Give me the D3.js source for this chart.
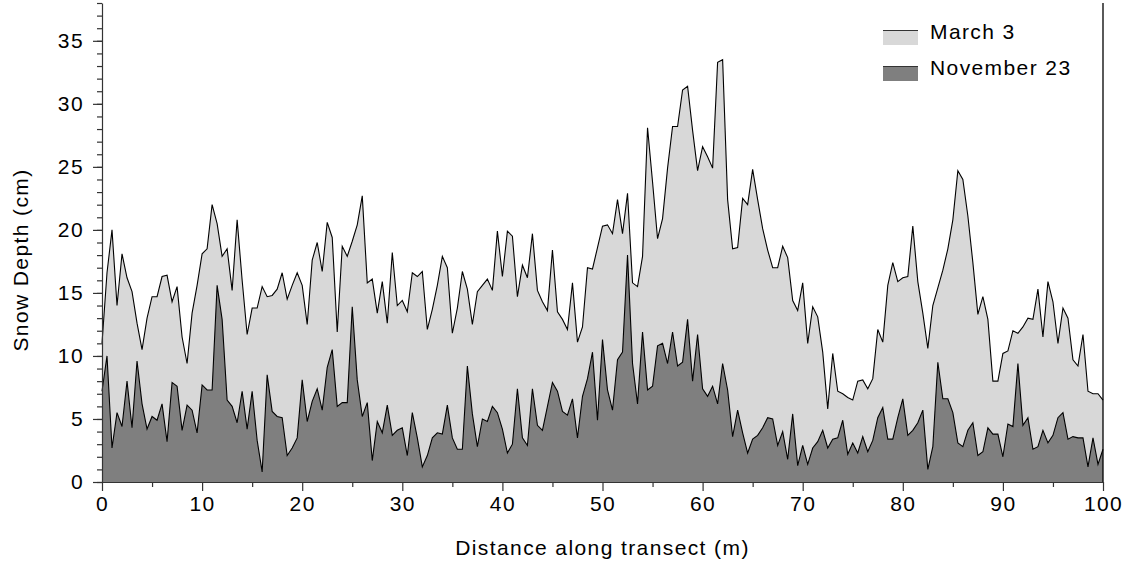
<!DOCTYPE html>
<html>
<head>
<meta charset="utf-8">
<script src="https://cdn.jsdelivr.net/npm/d3@7"></script>
<style>
    body { margin: 0; background: #fff; }
    svg text { font-family: "Liberation Sans", Arial, sans-serif; fill: #000; font-size: 21px; letter-spacing: 1.4px; }
    .axis path, .axis line { stroke: #333; }
</style>
</head>
<body>
<svg id="chart" width="1130" height="566"></svg>
<script>
// sampling distances along the transect (m), every 0.5 m
var distance = d3.range(0, 100.25, 0.5);

// snow depth (cm)
var march3 = [
    11.0, 16.6, 20.0, 14.0, 18.1, 16.2, 15.1, 12.6, 10.5, 13.0,
    14.7, 14.7, 16.3, 16.4, 14.3, 15.5, 11.5, 9.4, 13.4, 15.6,
    18.1, 18.5, 22.0, 20.5, 17.9, 18.5, 15.2, 20.8, 16.0, 11.7,
    13.8, 13.8, 15.5, 14.7, 14.8, 15.3, 16.6, 14.5, 15.6, 16.6,
    15.6, 12.5, 17.6, 19.0, 16.7, 20.6, 19.4, 11.9, 18.7, 17.9,
    19.1, 20.4, 22.7, 15.8, 16.1, 13.4, 15.9, 12.6, 18.2, 14.0,
    14.4, 13.5, 16.6, 16.3, 16.7, 12.1, 13.7, 15.6, 17.9, 17.0,
    11.8, 13.8, 16.7, 15.3, 12.5, 15.1, 15.6, 16.1, 15.2, 19.9,
    16.3, 19.9, 19.5, 14.7, 17.2, 16.2, 19.7, 15.2, 14.3, 13.6,
    18.4, 13.5, 12.9, 12.1, 15.8, 11.1, 12.3, 17.0, 16.9, 18.6,
    20.3, 20.4, 19.7, 22.4, 19.7, 22.9, 15.8, 15.5, 17.9, 28.1,
    23.8, 19.3, 20.9, 24.9, 28.2, 28.2, 31.1, 31.4, 27.9, 24.7,
    26.6, 25.8, 24.9, 33.3, 33.5, 22.4, 18.5, 18.6, 22.5, 22.0,
    24.8, 22.4, 20.1, 18.4, 17.0, 17.0, 18.7, 17.8, 14.4, 13.6,
    15.8, 11.0, 13.9, 13.1, 10.3, 5.8, 10.2, 7.2, 7.0, 6.7,
    6.5, 8.0, 8.1, 7.4, 8.2, 12.1, 11.1, 15.6, 17.4, 15.9,
    16.2, 16.3, 20.3, 15.9, 13.4, 10.6, 14.0, 15.4, 16.8, 18.5,
    20.8, 24.7, 24.0, 21.1, 17.4, 13.3, 14.7, 12.9, 8.0, 8.0,
    10.2, 10.4, 12.0, 11.8, 12.3, 13.0, 12.9, 15.3, 11.5, 15.9,
    14.3, 11.0, 13.8, 13.0, 9.7, 9.2, 11.7, 7.2, 7.0, 7.0,
    6.5
];

var november23 = [
    7.2, 10.0, 2.7, 5.5, 4.4, 8.0, 4.3, 9.6, 6.2, 4.2,
    5.2, 4.9, 6.2, 3.2, 7.9, 7.6, 4.1, 6.1, 5.7, 3.9,
    7.7, 7.3, 7.3, 15.6, 12.9, 6.5, 6.0, 4.7, 7.2, 4.2,
    7.2, 3.3, 0.8, 8.5, 5.6, 5.2, 5.1, 2.1, 2.7, 3.5,
    8.1, 4.8, 6.4, 7.4, 5.7, 9.1, 10.5, 6.0, 6.3, 6.3,
    13.9, 8.1, 5.2, 6.3, 1.7, 4.8, 3.9, 6.1, 3.7, 4.1,
    4.3, 2.1, 5.5, 3.5, 1.2, 2.1, 3.5, 3.9, 3.8, 6.1,
    3.5, 2.6, 2.6, 9.2, 5.4, 2.8, 5.0, 4.8, 6.0, 5.5,
    4.2, 2.3, 3.0, 7.4, 3.5, 2.9, 7.4, 4.5, 4.1, 6.0,
    7.9, 7.2, 5.6, 5.3, 6.6, 3.5, 6.8, 8.2, 10.3, 4.9,
    11.3, 7.3, 5.7, 9.7, 10.3, 18.0, 9.4, 6.2, 11.9, 7.3,
    7.6, 10.8, 11.0, 9.4, 11.9, 9.2, 9.5, 12.9, 8.0, 11.7,
    7.4, 6.8, 7.6, 6.2, 9.4, 7.3, 3.6, 5.7, 3.9, 2.3,
    3.4, 3.7, 4.3, 5.1, 5.0, 2.9, 4.0, 1.8, 5.4, 1.3,
    2.9, 1.4, 2.7, 3.2, 4.1, 2.7, 3.4, 3.5, 4.9, 2.2,
    3.1, 2.3, 3.6, 2.4, 3.3, 5.1, 5.9, 3.4, 3.4, 5.1,
    6.6, 3.7, 4.1, 4.7, 5.7, 1.0, 2.8, 9.5, 6.6, 6.6,
    5.5, 3.1, 2.8, 4.1, 4.7, 2.1, 2.4, 4.3, 3.8, 3.8,
    2.0, 4.6, 4.4, 9.4, 4.5, 5.1, 2.6, 2.8, 4.1, 3.1,
    3.7, 5.1, 5.5, 3.4, 3.6, 3.5, 3.5, 1.2, 3.5, 1.4,
    2.6
];

var seriesNames = ["March 3", "November 23"];
var seriesColors = ["#d8d8d8", "#7f7f7f"];
var xTicks = [0, 10, 20, 30, 40, 50, 60, 70, 80, 90, 100];
var yTicks = [0, 5, 10, 15, 20, 25, 30, 35];

var svg = d3.select("#chart"),
    margin = {top: 3, right: 27, bottom: 84, left: 102},
    width = 1130 - margin.left - margin.right,
    height = 566 - margin.top - margin.bottom;

var g = svg.append("g").attr("transform", "translate(" + margin.left + "," + margin.top + ")");

var x = d3.scaleLinear().domain([0, 100]).range([0, width]);
var y = d3.scaleLinear().domain([0, 38]).range([height, 0]);

function areaFor(values) {
    return d3.area()
        .x(function (d, i) { return x(distance[i]); })
        .y0(height)
        .y1(function (d) { return y(d); })(values);
}
function lineFor(values) {
    return d3.line()
        .x(function (d, i) { return x(distance[i]); })
        .y(function (d) { return y(d); })(values);
}

[march3, november23].forEach(function (vals, k) {
    g.append("path")
        .attr("d", areaFor(vals))
        .attr("fill", seriesColors[k]);
    g.append("path")
        .attr("d", lineFor(vals))
        .attr("fill", "none")
        .attr("stroke", "#000")
        .attr("stroke-width", 1.1)
        .attr("stroke-linejoin", "miter");
});

// minor ticks
g.append("g")
    .attr("class", "axis")
    .call(d3.axisLeft(y).tickValues(d3.range(0, 39, 1)).tickSize(5).tickFormat(""))
    .select(".domain").remove();
g.append("g")
    .attr("class", "axis")
    .attr("transform", "translate(0," + height + ")")
    .call(d3.axisBottom(x).tickValues(d3.range(5, 100, 10)).tickSize(5).tickFormat(""))
    .select(".domain").remove();

// major ticks + labels
var yAxis = g.append("g")
    .attr("class", "axis")
    .call(d3.axisLeft(y).tickValues(yTicks).tickSize(9).tickPadding(9).tickSizeOuter(0));
yAxis.selectAll("text").style("font-size", "21px");

var xAxis = g.append("g")
    .attr("class", "axis")
    .attr("transform", "translate(0," + height + ")")
    .call(d3.axisBottom(x).tickValues(xTicks).tickSize(9).tickPadding(5).tickSizeOuter(0));
xAxis.selectAll("text").style("font-size", "21px");

g.selectAll(".axis path, .axis line").attr("stroke-width", 1.2);

// right frame
g.append("line")
    .attr("x1", width).attr("x2", width)
    .attr("y1", 0).attr("y2", height)
    .attr("stroke", "#000").attr("stroke-width", 1.3);

// axis titles
svg.append("text")
    .attr("x", margin.left + width / 2)
    .attr("y", 555)
    .attr("text-anchor", "middle")
    .text("Distance along transect (m)");

svg.append("text")
    .attr("transform", "translate(28,260) rotate(-90)")
    .attr("text-anchor", "middle")
    .text("Snow Depth (cm)");

// legend
var legend = svg.append("g").attr("transform", "translate(883,30)");
seriesNames.forEach(function (name, k) {
    var row = legend.append("g").attr("transform", "translate(0," + (k * 36) + ")");
    row.append("rect")
        .attr("x", 0).attr("y", 0)
        .attr("width", 35).attr("height", 15)
        .attr("fill", seriesColors[k]);
    row.append("line")
        .attr("x1", 0).attr("x2", 35)
        .attr("y1", 0.5).attr("y2", 0.5)
        .attr("stroke", "#333").attr("stroke-width", 1);
    row.append("text")
        .attr("x", 47).attr("y", 9)
        .text(name);
});
</script>
</body>
</html>
